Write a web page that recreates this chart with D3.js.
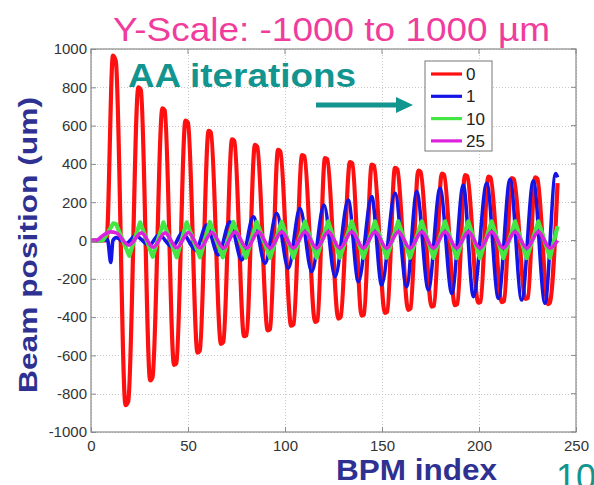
<!DOCTYPE html>
<html>
<head>
<meta charset="utf-8">
<script src="https://cdn.jsdelivr.net/npm/d3@7"></script>
<style>
  html, body { margin: 0; padding: 0; background: #fff; }
  svg { display: block; }
  text { font-family: Arial, "Liberation Sans", sans-serif; }
</style>
</head>
<body>
<svg id="chart" width="594" height="485"></svg>
<script>
// ---------- data ----------
const xTicks = [0, 50, 100, 150, 200, 250];
const yTicks = [-1000, -800, -600, -400, -200, 0, 200, 400, 600, 800, 1000];
const seriesNames = ["0", "1", "10", "25"];
const seriesColors = ["#ff1010", "#1414e6", "#44e644", "#dd22dd"];

// AA iterations = 0 (red)
const redX = [0, 8, 11.3, 12.8, 17.8, 19.2, 24.4, 25.7, 30.5, 31.7, 36.8, 38.0, 42.8, 44.0, 48.7, 50.0,
  54.9, 56.1, 60.6, 61.8, 67.0, 68.2, 72.7, 73.9, 78.9, 80.1, 84.5, 85.7, 91.1, 92.3, 96.4, 97.6,
  103.2, 104.4, 108.8, 110.0, 115.5, 116.7, 120.6, 121.8, 127.5, 128.7, 133.5, 134.7, 139.5, 140.7,
  144.7, 145.9, 151.5, 152.7, 156.7, 157.9, 163.5, 164.7, 168.7, 169.9, 175.6, 176.8, 180.8, 182.0,
  187.6, 188.8, 192.8, 194.0, 199.6, 200.8, 204.8, 206.0, 211.7, 212.9, 216.8, 218.0, 224.0, 225.2,
  228.9, 230.1, 235.5, 236.5, 240.5];
const redY = [0, 0, 965, 935, -860, -840, 800, 785, -730, -715, 690, 680, -650, -640, 626, 615,
  -585, -575, 572, 565, -540, -530, 528, 520, -500, -495, 499, 490, -470, -462, 473, 465,
  -445, -438, 446, 440, -425, -418, 430, 424, -408, -400, 410, 403, -392, -386,
  396, 390, -378, -372, 380, 372, -362, -355, 365, 358, -345, -340, 350, 344,
  -338, -332, 342, 336, -325, -320, 334, 328, -322, -316, 326, 320, -305, -300,
  330, 322, -332, -325, 300];

// AA iterations = 1 (blue)
const blueX = [0, 5, 8.5, 10.2, 11.3, 13, 18, 23, 30, 35, 42, 47, 54, 59.6, 65.6, 71.6, 77.7, 83.7,
  89.7, 95.7, 101.7, 107.7, 113.8, 120.1, 125.8, 132.6, 137.8, 144.7, 149.8, 156.7, 162.7, 167.9,
  173.9, 179.9, 186, 191.9, 197.1, 204, 210, 216, 222, 228, 234, 239.5, 240.5];
const blueY = [0, 0, 5, -115, 0, 15, -15, 25, -25, 30, -35, 40, -50, 81, -76, 98, -102, 124,
  -119, 142, -145, 168, -163, 185, -189, 211, -215, 229, -232, 246, -241, 255,
  -258, 272, -276, 290, -293, 299, -302, 320, -311, 312, -328, 350, 330];

// AA iterations = 10 (green)
const greenX = [0, 6, 8, 11.5, 13, 19.7, 25.3, 31.8, 37.3, 44.2, 49.3, 56.2, 61.3, 67.9, 73.4, 79.9,
  85.4, 92.3, 98.3, 104.3, 110.3, 116.3, 122.3, 128.3, 134.4, 140.4, 146.4, 152.4, 158.4, 164.4,
  170.5, 176.5, 182.5, 188.5, 194.5, 200.5, 206.5, 212.6, 218.6, 224.6, 230.6, 236.6, 240.5];
const greenY = [0, 0, 30, 90, 85, -80, 95, -85, 95, -88, 95, -88, 97, -88, 97, -90,
  98, -90, 98, -90, 100, -90, 100, -90, 100, -90, 100, -90, 100, -90,
  100, -90, 100, -92, 100, -92, 100, -92, 100, -92, 100, -90, 75];

// AA iterations = 25 (magenta)
const magX = [0, 3, 6, 10, 13, 19.5, 26, 32, 38.2, 44.2, 50.2, 56.2, 62.3, 68.3, 74.3, 80.3, 86.3,
  92.3, 98.3, 104.3, 110.3, 116.3, 122.3, 128.3, 134.4, 140.4, 146.4, 152.4, 158.4, 164.4, 170.5,
  176.5, 182.5, 188.5, 194.5, 200.5, 206.5, 212.5, 218.6, 224.6, 230.6, 236.6, 240.5];
const magY = [0, 2, 25, 45, 40, -25, 40, -35, 40, -38, 42, -40, 42, -40, 45, -40, 45,
  -40, 45, -40, 45, -40, 45, -40, 45, -40, 45, -40, 45, -40, 45,
  -40, 45, -40, 45, -40, 45, -40, 45, -40, 45, -40, 0];

// ---------- drawing ----------
const svg = d3.select("#chart");
const margin = { left: 91, top: 49, right: 18, bottom: 53 };
const W = 594, H = 485;
const x = d3.scaleLinear().domain([0, 250]).range([margin.left, W - margin.right]);
const y = d3.scaleLinear().domain([-1000, 1000]).range([H - margin.bottom, margin.top]);

// grid
const grid = svg.append("g").attr("stroke", "#c8c8c8").attr("stroke-width", 1)
  .attr("stroke-dasharray", "1,2");
grid.selectAll("line.v").data(xTicks).join("line")
  .attr("x1", d => Math.round(x(d)) + 0.5).attr("x2", d => Math.round(x(d)) + 0.5)
  .attr("y1", y(1000)).attr("y2", y(-1000));
grid.selectAll("line.h").data(yTicks).join("line")
  .attr("y1", d => Math.round(y(d)) + 0.5).attr("y2", d => Math.round(y(d)) + 0.5)
  .attr("x1", x(0)).attr("x2", x(250));

// series
const series = [
  { xs: redX, ys: redY, color: seriesColors[0], w: 4.2, curve: d3.curveMonotoneX },
  { xs: blueX, ys: blueY, color: seriesColors[1], w: 3.6, curve: d3.curveMonotoneX },
  { xs: greenX, ys: greenY, color: seriesColors[2], w: 4.2, curve: d3.curveLinear },
  { xs: magX, ys: magY, color: seriesColors[3], w: 3.6, curve: d3.curveMonotoneX }
];
const plot = svg.append("g");
series.forEach(s => {
  const pts = s.xs.map((v, i) => [v, s.ys[i]]);
  const line = d3.line().x(d => x(d[0])).y(d => y(d[1])).curve(s.curve);
  plot.append("path").datum(pts)
    .attr("d", line).attr("fill", "none")
    .attr("stroke", s.color).attr("stroke-width", s.w)
    .attr("stroke-linejoin", "round");
});

// axes
const axisColor = "#8a8a8a";
const fmt = d => String(d);
const xAxis = svg.append("g").attr("transform", `translate(0,${y(-1000)})`)
  .call(d3.axisBottom(x).tickValues(xTicks).tickSize(-5).tickPadding(8).tickFormat(fmt));
const yAxis = svg.append("g").attr("transform", `translate(${x(0)},0)`)
  .call(d3.axisLeft(y).tickValues(yTicks).tickSize(-5).tickPadding(4).tickFormat(fmt));
[xAxis, yAxis].forEach(a => {
  a.select(".domain").remove();
  a.selectAll("line").attr("stroke", axisColor);
  a.selectAll("text").attr("fill", "#333").style("font-size", "15px")
    .style("font-family", "Arial, 'Liberation Sans', sans-serif");
});
// top/right ticks
svg.append("g").selectAll("line").data(xTicks).join("line")
  .attr("x1", d => x(d)).attr("x2", d => x(d)).attr("y1", y(1000)).attr("y2", y(1000) + 5)
  .attr("stroke", axisColor);
svg.append("g").selectAll("line").data(yTicks).join("line")
  .attr("y1", d => y(d)).attr("y2", d => y(d)).attr("x1", x(250)).attr("x2", x(250) - 5)
  .attr("stroke", axisColor);
// box
svg.append("rect").attr("x", x(0)).attr("y", y(1000))
  .attr("width", x(250) - x(0)).attr("height", y(-1000) - y(1000))
  .attr("fill", "none").attr("stroke", axisColor).attr("stroke-width", 1.2);

// legend
const lg = svg.append("g").attr("transform", "translate(425,61)");
lg.append("rect").attr("width", 67).attr("height", 90)
  .attr("fill", "#fff").attr("stroke", "#777").attr("stroke-width", 1);
seriesNames.forEach((n, i) => {
  const yy = 13 + i * 22.3;
  lg.append("line").attr("x1", 6).attr("x2", 37).attr("y1", yy).attr("y2", yy)
    .attr("stroke", seriesColors[i]).attr("stroke-width", 3.2);
  lg.append("text").attr("x", 41).attr("y", yy).attr("dy", "0.36em")
    .attr("fill", "#222").style("font-size", "17px").text(n);
});

// annotations
svg.append("text").attr("x", 113).attr("y", 41)
  .attr("textLength", 437).attr("lengthAdjust", "spacingAndGlyphs")
  .attr("fill", "#f03c9c").style("font-size", "33px")
  .text("Y-Scale: -1000 to 1000 \u00b5m");

svg.append("text").attr("x", 128).attr("y", 87)
  .attr("textLength", 228).attr("lengthAdjust", "spacingAndGlyphs")
  .attr("fill", "#12948f").style("font-size", "34px").style("font-weight", "bold")
  .text("AA iterations");

// arrow
svg.append("line").attr("x1", 316).attr("x2", 398).attr("y1", 105).attr("y2", 105)
  .attr("stroke", "#12948f").attr("stroke-width", 5);
svg.append("path").attr("d", "M396,97 L413,105 L396,113 Z").attr("fill", "#12948f");

svg.append("text").attr("x", 336).attr("y", 480)
  .attr("textLength", 161).attr("lengthAdjust", "spacingAndGlyphs")
  .attr("fill", "#2e3192").style("font-size", "29px").style("font-weight", "bold")
  .text("BPM index");

svg.append("text")
  .attr("transform", "translate(37,245) rotate(-90)")
  .attr("text-anchor", "middle")
  .attr("textLength", 296).attr("lengthAdjust", "spacingAndGlyphs")
  .attr("fill", "#2e3192").style("font-size", "26px").style("font-weight", "bold")
  .text("Beam position (um)");

svg.append("text").attr("x", 556).attr("y", 490)
  .attr("fill", "#12948f").style("font-size", "36px")
  .text("10");
</script>
</body>
</html>
